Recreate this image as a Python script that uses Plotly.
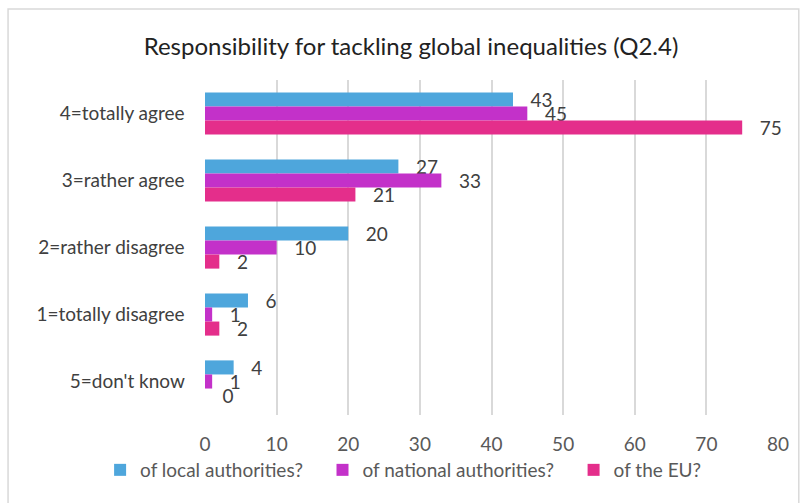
import plotly.graph_objects as go

categories = ["4=totally agree", "3=rather agree", "2=rather disagree", "1=totally disagree", "5=don't know"]
local_vals = [43, 27, 20, 6, 4]
national_vals = [45, 33, 10, 1, 1]
eu_vals = [75, 21, 2, 2, 0]
series_names = ["of local authorities?", "of national authorities?", "of the EU?"]
colors = ["#4EA6DC", "#C331C9", "#E42E8B"]
x_ticks = [0, 10, 20, 30, 40, 50, 60, 70, 80]

font_family = "Lato, Open Sans, Liberation Sans, Arial"
pad = "\u00a0" * 3

fig = go.Figure()
for name, vals, col in zip(series_names, [local_vals, national_vals, eu_vals], colors):
    fig.add_trace(go.Bar(
        y=categories, x=vals, name=name + pad, orientation="h",
        marker=dict(color=col, line=dict(width=0)),
        text=["\u00a0\u00a0\u00a0" + str(v) for v in vals], textposition="outside",
        constraintext="none",
        textfont=dict(size=19, color="#404040", family=font_family),
        cliponaxis=False,
    ))

L, R, T, B = 205, 17, 80, 88
W, H = 801, 503
pw, ph = W - L - R, H - T - B

def px_x(p):
    return (p - L) / pw

def px_y(p):
    return 1 - (p - T) / ph

fig.update_layout(
    width=W, height=H,
    margin=dict(l=L, r=R, t=T, b=B),
    paper_bgcolor="white", plot_bgcolor="white",
    barmode="group", bargap=0.37, bargroupgap=0,
    title=dict(text="Responsibility for tackling global inequalities (Q2.4)",
               x=411 / W, xanchor="center", y=1 - 47 / H, yanchor="middle",
               font=dict(size=24, color="#222222", family=font_family)),
    font=dict(family=font_family, color="#595959", size=19),
    xaxis=dict(range=[0, 80], tickvals=x_ticks, showgrid=True, gridcolor="#D9D9D9",
               gridwidth=1.5, zeroline=False, showline=False,
               tickfont=dict(size=19, color="#595959"), ticks="", ticklabelstandoff=16),
    yaxis=dict(autorange="reversed", showgrid=False, showline=False, ticks="",
               tickfont=dict(size=19, color="#404040"), ticksuffix="\u00a0\u00a0\u00a0\u00a0"),
    legend=dict(orientation="h", x=px_x(99), xanchor="left", y=px_y(470), yanchor="middle",
                font=dict(size=19, color="#595959"), itemwidth=30, traceorder="normal",
                itemsizing="constant"),
    showlegend=True,
    shapes=[dict(type="rect", xref="paper", yref="paper",
                 x0=px_x(6), x1=px_x(805), y0=px_y(9), y1=px_y(510),
                 line=dict(color="#D9D9D9", width=1.5), fillcolor="rgba(0,0,0,0)", layer="below")],
)

fig.write_html("out.html")
